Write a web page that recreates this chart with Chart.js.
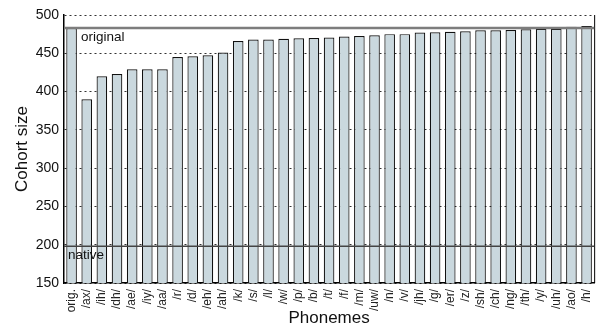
<!DOCTYPE html>
<html>
<head>
<meta charset="utf-8">
<script src="https://cdn.jsdelivr.net/npm/chart.js@4/dist/chart.umd.min.js"></script>
<style>
html,body{margin:0;padding:0;background:#fff;}
canvas{display:block;}
</style>
</head>
<body>
<canvas id="c" width="607" height="327"></canvas>
<script>
const categories = ['orig.','/ax/','/ih/','/dh/','/ae/','/iy/','/aa/','/r/','/d/','/eh/','/ah/','/k/','/s/','/l/','/w/','/p/','/b/','/t/','/f/','/m/','/uw/','/n/','/v/','/jh/','/g/','/er/','/z/','/sh/','/ch/','/ng/','/th/','/y/','/uh/','/ao/','/h/'];
const cohortSizes = [483,390,420,423,429,429,429,445,446,447.5,451,466,468,468,469,469.5,470,470.5,472,472.5,473.5,475,475,477,477.4,478,478.7,480,480,480.4,481.3,482,482,484.8,485.6];
const refLabels = ['original','native'];
const refValues = [483,198];
const yTicks = [150,200,250,300,350,400,450,500];

const FONT = '"Liberation Sans", Arial, Helvetica, sans-serif';

const overlay = {
  id: 'overlay',
  afterDatasetsDraw(chart) {
    const {ctx, chartArea, scales} = chart;
    const y = scales.y;
    ctx.save();
    ctx.strokeStyle = '#000';
    ctx.lineWidth = 1;
    ctx.beginPath();
    ctx.moveTo(chartArea.right + 0.5, chartArea.top);
    ctx.lineTo(chartArea.right + 0.5, chartArea.bottom);
    ctx.stroke();
    const styles = [{c:'#7d7d7d', w:2.5}, {c:'#444', w:1.5}];
    refValues.forEach((v, i) => {
      const py = y.getPixelForValue(v);
      ctx.strokeStyle = styles[i].c;
      ctx.lineWidth = styles[i].w;
      ctx.beginPath();
      ctx.moveTo(chartArea.left, py);
      ctx.lineTo(chartArea.right, py);
      ctx.stroke();
    });
    ctx.fillStyle = '#111';
    ctx.font = '13.5px ' + FONT;
    ctx.textBaseline = 'middle';
    ctx.textAlign = 'left';
    ctx.fillText(refLabels[0], chartArea.left + 17, y.getPixelForValue(refValues[0]) + 9);
    ctx.fillText(refLabels[1], chartArea.left + 4, y.getPixelForValue(refValues[1]) + 9);
    ctx.restore();
  }
};

new Chart(document.getElementById('c'), {
  type: 'bar',
  data: {
    labels: categories,
    datasets: [{
      data: cohortSizes,
      backgroundColor: '#cad8de',
      borderColor: '#111',
      borderWidth: 1.2,
      barPercentage: 0.7,
      categoryPercentage: 1.0
    }]
  },
  options: {
    responsive: false,
    animation: false,
    layout: { padding: { top: 15, right: 2, left: 0, bottom: 0 } },
    plugins: { legend: { display: false }, tooltip: { enabled: false } },
    scales: {
      x: {
        grid: { display: false, drawTicks: false },
        border: { display: true, color: '#000', width: 1.5 },
        ticks: {
          font: { family: FONT, size: 12 },
          color: '#222',
          minRotation: 90, maxRotation: 90,
          padding: 6,
          autoSkip: false
        },
        title: { display: true, text: 'Phonemes', font: { family: FONT, size: 17 }, color: '#111', padding: { top: 0, bottom: -2 } },
        afterFit(s) { s.height = 44; }
      },
      y: {
        min: 150, max: 500,
        afterBuildTicks(s) { s.ticks = yTicks.map(v => ({ value: v })); },
        grid: { color: '#333', lineWidth: 1, drawTicks: false },
        border: { display: true, color: '#000', width: 1.5, dash: [2, 3] },
        ticks: { font: { family: FONT, size: 14 }, color: '#111', padding: 5 },
        title: { display: true, text: 'Cohort size', font: { family: FONT, size: 17 }, color: '#111', padding: { top: 12, bottom: 0 } },
        afterFit(s) { s.width = 64; }
      }
    }
  },
  plugins: [overlay]
});
</script>
</body>
</html>
